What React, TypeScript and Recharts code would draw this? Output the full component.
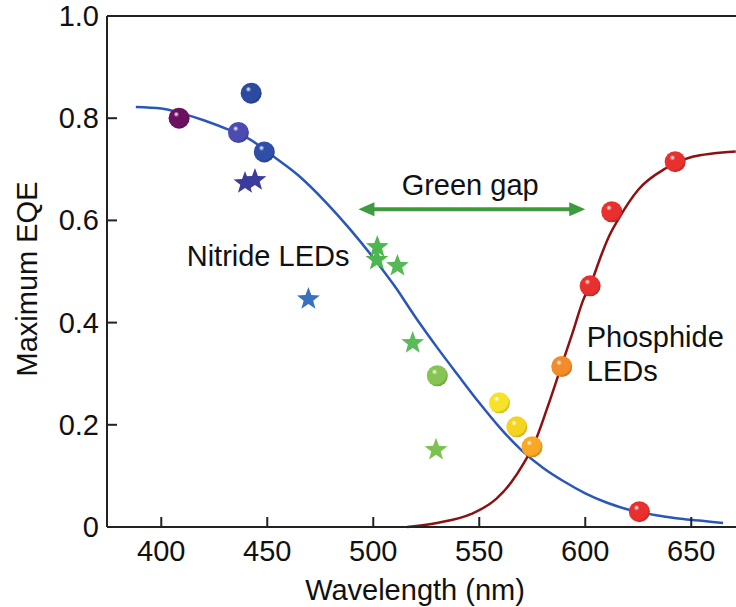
import React from 'react';
import {
  ComposedChart,
  Line,
  Scatter,
  XAxis,
  YAxis,
  ReferenceLine,
  ReferenceDot,
} from 'recharts';

// fitted efficiency curves
const nitrideFitWl = [388, 400, 410, 420, 432, 442, 453, 465, 478, 489, 500, 510, 520, 530, 540, 550, 560, 570, 580, 590, 600, 610, 623, 635, 645, 655, 665];
const nitrideFitEqe = [0.822, 0.819, 0.809, 0.796, 0.777, 0.758, 0.725, 0.687, 0.634, 0.583, 0.527, 0.472, 0.41, 0.352, 0.297, 0.243, 0.193, 0.15, 0.116, 0.089, 0.066, 0.048, 0.031, 0.022, 0.016, 0.012, 0.008];

const phosphideFitWl = [516, 530, 546, 558, 565, 571, 576, 582, 588, 594, 599, 603, 607, 611, 616, 625, 638, 651, 660, 671];
const phosphideFitEqe = [0, 0.008, 0.025, 0.055, 0.087, 0.125, 0.164, 0.232, 0.306, 0.38, 0.444, 0.48, 0.526, 0.567, 0.605, 0.66, 0.702, 0.725, 0.731, 0.735];

// measured devices, drawn as spheres
const sphereWl = [408.4, 442.4, 436.4, 448.6, 530.2, 559.5, 567.7, 574.9, 588.9, 602.3, 612.5, 642.4, 625.5];
const sphereEqe = [0.8, 0.849, 0.772, 0.734, 0.296, 0.243, 0.196, 0.157, 0.314, 0.472, 0.617, 0.715, 0.03];
const sphereColors = ['#6b1160', '#2b4aa0', '#4b4bb0', '#2e4ea8', '#86c453', '#f7e22a', '#f5d421', '#f8a824', '#f28c28', '#e8302f', '#e8302f', '#e8302f', '#e8302f'];

// measured devices, drawn as stars
const starWl = [439.5, 444.2, 469.4, 501.9, 501.7, 511.4, 518.6, 529.6];
const starEqe = [0.673, 0.679, 0.446, 0.548, 0.523, 0.511, 0.36, 0.151];
const starColors = ['#3b3b9c', '#3b3b9c', '#3a70c0', '#4cb64f', '#4cb64f', '#55b955', '#5bbb5b', '#7dc24f'];

const xTicks = [400, 450, 500, 550, 600, 650];
const yTicks = [0, 0.2, 0.4, 0.6, 0.8, 1.0];

const greenGap = [493, 600];

const FONT = '"Liberation Sans", Arial, Helvetica, sans-serif';
const TEXT = '#111';

const nitrideFit = nitrideFitWl.map((wl, i) => ({ wl, eqe: nitrideFitEqe[i] }));
const phosphideFit = phosphideFitWl.map((wl, i) => ({ wl, eqe: phosphideFitEqe[i] }));
const spheres = sphereWl.map((wl, i) => ({ wl, eqe: sphereEqe[i], color: sphereColors[i], id: i }));
const stars = starWl.map((wl, i) => ({ wl, eqe: starEqe[i], color: starColors[i] }));

function darken(hex: string, f: number) {
  const n = parseInt(hex.slice(1), 16);
  const r = Math.round(((n >> 16) & 255) * f);
  const g = Math.round(((n >> 8) & 255) * f);
  const b = Math.round((n & 255) * f);
  return `rgb(${r},${g},${b})`;
}

const Sphere = (props: any) => {
  const { cx, cy, payload } = props;
  const id = `sphere-${payload.id}`;
  return (
    <g>
      <defs>
        <radialGradient id={id} cx="42%" cy="40%" r="62%" fx="36%" fy="30%">
          <stop offset="0%" stopColor="#ffffff" />
          <stop offset="22%" stopColor={payload.color} />
          <stop offset="80%" stopColor={payload.color} />
          <stop offset="100%" stopColor={darken(payload.color, 0.8)} />
        </radialGradient>
      </defs>
      <circle cx={cx} cy={cy} r={10.5} fill={`url(#${id})`} />
    </g>
  );
};

const Star = (props: any) => {
  const { cx, cy, payload } = props;
  const pts: string[] = [];
  for (let i = 0; i < 10; i++) {
    const r = i % 2 === 0 ? 12 : 5;
    const a = -Math.PI / 2 + (i * Math.PI) / 5;
    pts.push(`${cx + r * Math.cos(a)},${cy + r * Math.sin(a)}`);
  }
  return <polygon points={pts.join(' ')} fill={payload.color} />;
};

const XTick = (props: any) => {
  const { x, y, payload } = props;
  return (
    <g>
      <line x1={x} y1={y} x2={x} y2={y - 10} stroke="#222" strokeWidth={2} />
      <text x={x} y={y + 34} textAnchor="middle" fontSize={29} fontFamily={FONT} fill={TEXT}>
        {payload.value}
      </text>
    </g>
  );
};

const YTick = (props: any) => {
  const { x, y, payload } = props;
  return (
    <g>
      <line x1={x} y1={y} x2={x + 10} y2={y} stroke="#222" strokeWidth={2} />
      <text x={x - 8} y={y + 10} textAnchor="end" fontSize={29} fontFamily={FONT} fill={TEXT}>
        {payload.value === 0 ? '0' : payload.value.toFixed(1)}
      </text>
    </g>
  );
};

const Note = (text: string, anchor: 'start' | 'middle' | 'end') => (p: any) => (
  <text x={p.cx} y={p.cy} textAnchor={anchor} fontSize={29} fontFamily={FONT} fill={TEXT}>
    {text}
  </text>
);

const GapArrow = (p: any) => {
  const { x1, y1, x2, y2 } = p;
  const c = '#3d9b3d';
  return (
    <g>
      <line x1={x1 + 10} y1={y1} x2={x2 - 10} y2={y2} stroke={c} strokeWidth={4} />
      <polygon points={`${x1},${y1} ${x1 + 16},${y1 - 7} ${x1 + 16},${y1 + 7}`} fill={c} />
      <polygon points={`${x2},${y2} ${x2 - 16},${y2 - 7} ${x2 - 16},${y2 + 7}`} fill={c} />
    </g>
  );
};

export default function App() {
  return (
    <div style={{ position: 'absolute', left: 0, top: 0, background: '#fff' }}>
      <ComposedChart width={736} height={607} margin={{ top: 16, right: 0, bottom: 0, left: 0 }}>
        <XAxis
          dataKey="wl"
          type="number"
          domain={[374.4, 671.1]}
          ticks={xTicks}
          allowDataOverflow
          height={80}
          tickSize={0}
          tickMargin={0}
          tick={<XTick />}
          axisLine={{ stroke: '#222', strokeWidth: 2 }}
          tickLine={false}
          label={(p: any) => (
            <text x={415} y={600} textAnchor="middle" fontSize={29} fontFamily={FONT} fill={TEXT}>
              Wavelength (nm)
            </text>
          )}
        />
        <YAxis
          dataKey="eqe"
          type="number"
          domain={[0, 1]}
          ticks={yTicks}
          width={107}
          tickSize={0}
          tickMargin={0}
          tick={<YTick />}
          axisLine={{ stroke: '#222', strokeWidth: 2 }}
          tickLine={false}
          label={(p: any) => (
            <text
              x={37}
              y={279}
              transform="rotate(-90, 37, 279)"
              textAnchor="middle"
              fontSize={29}
              fontFamily={FONT}
              fill={TEXT}
            >
              Maximum EQE
            </text>
          )}
        />
        <ReferenceLine y={1} stroke="#222" strokeWidth={2} />
        <Line
          data={nitrideFit}
          dataKey="eqe"
          type="monotone"
          stroke="#2a56b8"
          strokeWidth={2.5}
          dot={false}
          isAnimationActive={false}
        />
        <Line
          data={phosphideFit}
          dataKey="eqe"
          type="monotone"
          stroke="#8b1212"
          strokeWidth={2.5}
          dot={false}
          isAnimationActive={false}
        />
        <Scatter data={stars} dataKey="eqe" shape={<Star />} isAnimationActive={false} />
        <Scatter data={spheres} dataKey="eqe" shape={<Sphere />} isAnimationActive={false} />
        <ReferenceLine
          segment={[
            { x: greenGap[0], y: 0.622 },
            { x: greenGap[1], y: 0.622 },
          ]}
          shape={GapArrow}
          ifOverflow="visible"
        />
        <ReferenceDot x={545.7} y={0.65} r={0} shape={Note('Green gap', 'middle')} ifOverflow="visible" />
        <ReferenceDot x={412} y={0.511} r={0} shape={Note('Nitride LEDs', 'start')} ifOverflow="visible" />
        <ReferenceDot x={600.7} y={0.353} r={0} shape={Note('Phosphide', 'start')} ifOverflow="visible" />
        <ReferenceDot x={600.7} y={0.286} r={0} shape={Note('LEDs', 'start')} ifOverflow="visible" />
      </ComposedChart>
    </div>
  );
}
